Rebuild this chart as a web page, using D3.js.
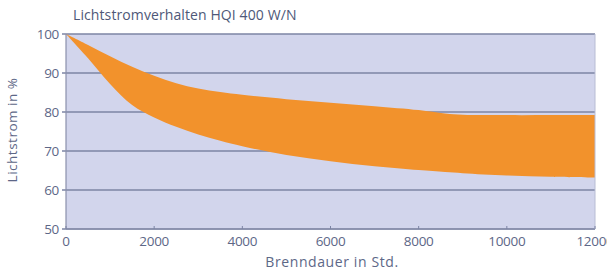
<!DOCTYPE html>
<html><head><meta charset="utf-8">
<script src="https://cdn.jsdelivr.net/npm/d3@7"></script>
<style>html,body{margin:0;padding:0;background:#fff;}</style>
</head><body>
<svg id="c" width="607" height="276"></svg>
<script>
const title = "Lichtstromverhalten HQI 400 W/N";
const xLabel = "Brenndauer in Std.";
const yLabel = "Lichtstrom in %";
const hours = [0, 500, 1000, 1500, 2000, 2500, 3000, 3500, 4000, 5000, 6000, 7000, 8000, 8600, 9000, 10000, 11000, 12000];
const upper = [100, 97.2, 94.3, 91.6, 89.3, 87.4, 86.0, 85.1, 84.4, 83.3, 82.4, 81.5, 80.5, 79.6, 79.3, 79.2, 79.2, 79.2];
const lower = [100, 93.8, 87.2, 81.8, 78.6, 76.2, 74.2, 72.6, 71.2, 69.0, 67.4, 66.1, 65.1, 64.6, 64.3, 63.7, 63.4, 63.2];
const xTicks = [0, 2000, 4000, 6000, 8000, 10000, 12000];
const yTicks = [50, 60, 70, 80, 90, 100];

const svg = d3.select("#c");
const m = {l: 66, r: 595, t: 34, b: 229};
const x = d3.scaleLinear().domain([0, 12000]).range([m.l, m.r]);
const y = d3.scaleLinear().domain([50, 100]).range([m.b, m.t]);
const font = "'Open Sans', sans-serif";
const txt = "#5d6787";

svg.append("rect").attr("x", m.l).attr("y", m.t).attr("width", m.r - m.l).attr("height", m.b - m.t).attr("fill", "#d2d5ec");

// grid
svg.append("g").selectAll("line").data(yTicks).join("line")
  .attr("x1", m.l - 4).attr("x2", m.r).attr("y1", d => y(d)).attr("y2", d => y(d))
  .attr("stroke", "#7c84a4").attr("stroke-width", 1.6);

const data = hours.map((h, i) => ({h, u: upper[i], l: lower[i]}));
const area = d3.area().x(d => x(d.h)).y0(d => y(d.l)).y1(d => y(d.u)).curve(d3.curveCatmullRom.alpha(0.5));
svg.append("path").datum(data).attr("d", area).attr("fill", "#f2922c");

// axes lines
svg.append("line").attr("x1", m.l).attr("x2", m.l).attr("y1", m.t).attr("y2", m.b).attr("stroke", "#8a90ac").attr("stroke-width", 1.2);
svg.append("line").attr("x1", m.l).attr("x2", m.r).attr("y1", m.b).attr("y2", m.b).attr("stroke", "#8a90ac").attr("stroke-width", 1.6);
svg.append("line").attr("x1", m.r).attr("x2", m.r).attr("y1", m.t).attr("y2", m.b).attr("stroke", "#b8bcd4").attr("stroke-width", 1);
svg.append("g").selectAll("line").data(xTicks).join("line")
  .attr("x1", d => x(d)).attr("x2", d => x(d)).attr("y1", m.b - 3).attr("y2", m.b)
  .attr("stroke", "#7c84a4");

svg.append("g").selectAll("text").data(yTicks).join("text")
  .attr("x", m.l - 7).attr("y", d => y(d)).attr("dy", "0.35em").attr("text-anchor", "end")
  .attr("font-family", font).attr("font-size", 13.5).attr("letter-spacing", -0.3).attr("fill", txt).text(d => d);
svg.append("g").selectAll("text").data(xTicks).join("text")
  .attr("x", d => x(d)).attr("y", m.b + 17).attr("text-anchor", "middle")
  .attr("font-family", font).attr("font-size", 13.5).attr("letter-spacing", -0.3).attr("fill", txt).text(d => d);

svg.append("text").attr("x", 332).attr("y", 267).attr("text-anchor", "middle")
  .attr("font-family", font).attr("font-size", 14).attr("letter-spacing", 0.6).attr("fill", txt).text(xLabel);
svg.append("text").attr("transform", "translate(17,130) rotate(-90)").attr("text-anchor", "middle")
  .attr("font-family", font).attr("font-size", 13.5).attr("letter-spacing", 0.5).attr("fill", txt).text(yLabel);
svg.append("text").attr("x", 73).attr("y", 20)
  .attr("font-family", font).attr("font-size", 14).attr("letter-spacing", 0.1).attr("fill", "#4e5878").text(title);
</script>
</body></html>
